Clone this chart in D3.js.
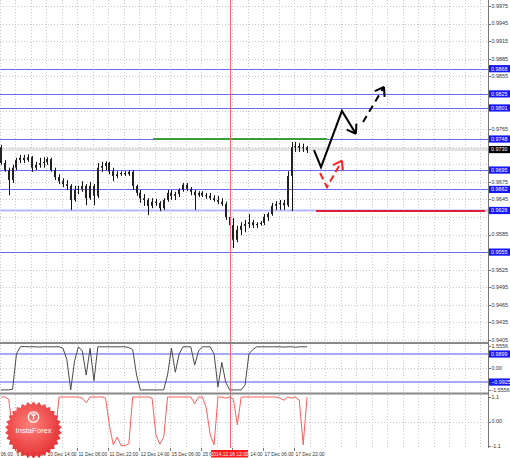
<!DOCTYPE html>
<html>
<head>
<meta charset="utf-8">
<script src="https://cdn.jsdelivr.net/npm/d3@7"></script>
<style>
  body { margin: 0; background: #fff; }
  svg { display: block; font-family: "Liberation Sans", Arial, sans-serif; }
</style>
</head>
<body>
<svg id="chart" width="510" height="458"></svg>
<script>
// 2-hour candles, EURUSD-like H1 view, 9 Dec .. 18 Dec 2014
const opens = [0.9734,0.9707,0.9695,0.9678,0.9699,0.9712,0.9716,0.9712,0.9717,0.9699,
  0.9704,0.9707,0.9709,0.9714,0.9695,0.9683,0.9676,0.9671,0.9668,0.9644,
  0.9661,0.9663,0.9668,0.9647,0.9668,0.9651,0.9699,0.9702,0.9707,0.9693,
  0.9685,0.9688,0.9690,0.9688,0.9692,0.9668,0.9656,0.9647,0.9644,0.9634,
  0.9641,0.9639,0.9630,0.9644,0.9656,0.9651,0.9654,0.9661,0.9670,0.9663,
  0.9658,0.9652,0.9656,0.9652,0.9651,0.9647,0.9644,0.9641,0.9637,0.9615,
  0.9601,0.9576,0.9593,0.9600,0.9603,0.9606,0.9601,0.9603,0.9605,0.9615,
  0.9620,0.9634,0.9637,0.9639,0.9635,0.9685,0.9734,0.9736,0.9733,0.9734];
const highs = [0.9738,0.9712,0.9699,0.9704,0.9716,0.9721,0.9721,0.9722,0.9719,0.9709,
  0.9716,0.9717,0.9717,0.9716,0.9699,0.9688,0.9681,0.9678,0.9671,0.9668,
  0.9668,0.9676,0.9671,0.9675,0.9671,0.9707,0.9709,0.9710,0.9709,0.9699,
  0.9693,0.9693,0.9693,0.9695,0.9695,0.9670,0.9661,0.9654,0.9647,0.9647,
  0.9646,0.9642,0.9647,0.9661,0.9661,0.9658,0.9664,0.9673,0.9673,0.9666,
  0.9661,0.9659,0.9659,0.9656,0.9656,0.9652,0.9651,0.9647,0.9641,0.9617,
  0.9613,0.9600,0.9606,0.9610,0.9620,0.9610,0.9606,0.9608,0.9620,0.9623,
  0.9639,0.9642,0.9644,0.9644,0.9693,0.9743,0.9743,0.9741,0.9740,0.9736];
const lows = [0.9704,0.9692,0.9652,0.9673,0.9695,0.9707,0.9707,0.9709,0.9692,0.9695,
  0.9699,0.9699,0.9704,0.9692,0.9678,0.9671,0.9666,0.9661,0.9627,0.9641,
  0.9654,0.9658,0.9635,0.9644,0.9635,0.9647,0.9692,0.9695,0.9688,0.9676,
  0.9681,0.9685,0.9685,0.9685,0.9661,0.9651,0.9639,0.9634,0.9618,0.9630,
  0.9634,0.9625,0.9627,0.9641,0.9644,0.9644,0.9649,0.9658,0.9659,0.9652,
  0.9627,0.9649,0.9649,0.9646,0.9644,0.9641,0.9637,0.9634,0.9610,0.9593,
  0.9562,0.9572,0.9584,0.9589,0.9596,0.9596,0.9596,0.9600,0.9601,0.9608,
  0.9617,0.9627,0.9627,0.9627,0.9632,0.9625,0.9726,0.9726,0.9726,0.9724];
const closes = [0.9707,0.9695,0.9678,0.9699,0.9712,0.9716,0.9712,0.9717,0.9699,0.9704,
  0.9707,0.9709,0.9714,0.9695,0.9683,0.9676,0.9671,0.9668,0.9644,0.9661,
  0.9663,0.9668,0.9647,0.9668,0.9651,0.9699,0.9702,0.9707,0.9693,0.9685,
  0.9688,0.9690,0.9688,0.9692,0.9668,0.9656,0.9647,0.9644,0.9634,0.9641,
  0.9639,0.9630,0.9644,0.9656,0.9651,0.9654,0.9661,0.9670,0.9663,0.9658,
  0.9652,0.9656,0.9652,0.9651,0.9647,0.9644,0.9641,0.9637,0.9615,0.9601,
  0.9576,0.9593,0.9600,0.9603,0.9606,0.9601,0.9603,0.9605,0.9615,0.9620,
  0.9634,0.9637,0.9639,0.9635,0.9685,0.9734,0.9736,0.9733,0.9734,0.9729];

// oscillators (same 2-hour steps)
const osc1 = [-1.55,-1.55,-1.55,-1.5,1.0,1.5,1.52,1.5,1.5,1.5,
  1.48,1.5,1.5,1.5,1.5,1.5,1.4,0.6,-1.55,0.5,
  1.5,1.2,-0.5,1.4,-0.9,1.5,1.5,1.5,1.5,1.5,
  1.5,1.5,1.5,1.45,1.3,-0.5,-1.55,-1.55,-1.55,-1.55,
  -1.55,-1.55,-1.55,-0.5,1.4,-0.3,1.0,1.5,1.5,1.5,
  0.2,1.2,1.5,1.5,1.5,1.0,-1.35,0.4,-1.0,-1.55,
  -1.55,-1.55,-1.55,-1.2,1.0,1.3,1.5,1.5,1.5,1.5,
  1.5,1.5,1.5,1.48,1.5,1.5,1.47,1.5,1.5,1.5];
const osc2 = [1.1,1.1,1.0,-0.4,-0.9,-0.9,-0.9,-0.9,-0.9,-0.9,
  -0.9,-0.9,-0.9,-0.9,-0.6,1.1,1.1,1.1,1.1,1.1,
  1.1,1.05,0.84,1.1,1.1,1.1,1.1,1.05,-0.2,-1.05,
  -0.7,-1.08,-1.08,-1.0,1.1,1.1,1.1,1.1,1.1,1.05,
  -0.6,-1.02,-0.7,1.1,1.1,1.1,1.1,1.1,1.1,1.1,
  0.8,1.1,1.1,0.6,-0.6,-1.05,1.1,1.1,1.05,1.1,
  1.0,-0.15,1.1,1.1,1.1,1.1,1.1,1.1,1.1,1.1,
  1.1,1.1,1.05,0.95,1.1,1.05,1.1,0.95,-1.05,1.1];

// horizontal levels
const levels = [0.9868, 0.9825, 0.9801, 0.9748, 0.9695, 0.9662, 0.9555];
const softLevel = 0.9626;
const bidPrice = 0.9730;
const resistLine = { from: 79, to: 168.8, price: 0.9748 };
const supportLine = { from: 163.1, to: 250.3, price: 0.9625 };

// forecast arrows, [hour index, price]
const mainArrow = [[162.1, 0.9729], [165.7, 0.9700], [176.5, 0.9796], [183.7, 0.9757]];
const targetArrow = [[187.4, 0.9777], [198.2, 0.9837]];
const altArrow = [[165.2, 0.9690], [168.8, 0.9666], [176.5, 0.9711]];

// axes
const priceTicks = [0.9975,0.9945,0.9915,0.9885,0.9855,0.9825,0.9795,0.9765,0.9735,0.9705,
  0.9675,0.9645,0.9615,0.9585,0.9555,0.9525,0.9495,0.9465,0.9435,0.9405];
const timeTicks = [-8, 8, 24, 40, 56, 72, 88, 104, 120, 136, 152];
const timeLabels = ['9 Dec 06:00','9 Dec 22:00','10 Dec 14:00','11 Dec 06:00','11 Dec 22:00',
  '12 Dec 14:00','15 Dec 06:00','15 Dec 22:00','16 Dec 14:00','17 Dec 06:00','17 Dec 22:00'];
const osc1Ticks = [1.5556, 0, -1.5556];
const osc1Labels = ['1.5556', '0.00', '-1.5556'];
const osc1Levels = [0.9899, -0.9925];
const osc2Ticks = [1.1, 0, -1.1];
const osc2Labels = ['1.1', '0.00', '-1.1'];
const crossHour = 118.5;
const crossLabel = '2014.12.16 12:00';

const svg = d3.select('#chart');
const right = 488;
const x = d3.scaleLinear().domain([0, 251.9]).range([0, right]);
const y = d3.scaleLinear().domain([0.9975, 0.9405]).range([6, 340]);
const y1 = d3.scaleLinear().domain([1.5556, -1.5556]).range([346, 390]);
const y2 = d3.scaleLinear().domain([1.1, -1.1]).range([397, 446]);
const fmt = d3.format('.4f');
const candleT = k => 2 * k + 0.5;

svg.append('rect').attr('width', 510).attr('height', 458).attr('fill', '#fff');

// grid
const gridG = svg.append('g')
  .attr('stroke', '#c8c8c8')
  .attr('stroke-dasharray', '1,2')
  .attr('shape-rendering', 'crispEdges');
const vGrid = d3.range(0, 252, 8);
[[0, 342], [345, 392], [395, 448]].forEach(([a, b]) => {
  gridG.selectAll(null).data(vGrid).enter().append('line')
    .attr('x1', d => Math.round(x(d)) + 0.5).attr('x2', d => Math.round(x(d)) + 0.5)
    .attr('y1', a).attr('y2', b);
});
gridG.selectAll(null).data(priceTicks).enter().append('line')
  .attr('x1', 0).attr('x2', right)
  .attr('y1', d => Math.round(y(d)) + 0.5).attr('y2', d => Math.round(y(d)) + 0.5);
gridG.append('line').attr('x1', 0).attr('x2', right)
  .attr('y1', Math.round(y1(0)) + 0.5).attr('y2', Math.round(y1(0)) + 0.5);
gridG.append('line').attr('x1', 0).attr('x2', right)
  .attr('y1', Math.round(y2(0)) + 0.5).attr('y2', Math.round(y2(0)) + 0.5);

// bid line
svg.append('line').attr('x1', 0).attr('x2', right)
  .attr('y1', y(bidPrice)).attr('y2', y(bidPrice))
  .attr('stroke', '#e2e2e2').attr('stroke-width', 3);

// levels
svg.append('line').attr('x1', 0).attr('x2', right)
  .attr('y1', y(softLevel)).attr('y2', y(softLevel))
  .attr('stroke', '#b4b8ff').attr('stroke-width', 2);
svg.selectAll('.lvl').data(levels).enter().append('line')
  .attr('class', 'lvl')
  .attr('x1', 0).attr('x2', right)
  .attr('y1', d => Math.round(y(d)) + 0.5).attr('y2', d => Math.round(y(d)) + 0.5)
  .attr('stroke', '#6a6af2').attr('stroke-width', 1);
svg.selectAll('.lvl1').data(osc1Levels).enter().append('line')
  .attr('class', 'lvl1')
  .attr('x1', 0).attr('x2', right)
  .attr('y1', d => y1(d)).attr('y2', d => y1(d))
  .attr('stroke', '#8c8cf4').attr('stroke-width', 1.5);

svg.append('line')
  .attr('x1', x(resistLine.from)).attr('x2', x(resistLine.to))
  .attr('y1', y(resistLine.price)).attr('y2', y(resistLine.price))
  .attr('stroke', '#3a9e3a').attr('stroke-width', 2);
svg.append('line')
  .attr('x1', x(supportLine.from)).attr('x2', x(supportLine.to))
  .attr('y1', y(supportLine.price)).attr('y2', y(supportLine.price))
  .attr('stroke', '#e01e3c').attr('stroke-width', 2);

// candles
const candles = svg.append('g');
closes.forEach((c, k) => {
  const cx = Math.round(x(candleT(k))) + 0.5;
  candles.append('line')
    .attr('x1', cx).attr('x2', cx)
    .attr('y1', y(highs[k])).attr('y2', y(lows[k]))
    .attr('stroke', '#111').attr('stroke-width', 1);
  const top = y(Math.max(opens[k], c));
  const bot = y(Math.min(opens[k], c));
  candles.append('rect')
    .attr('x', cx - 1.5).attr('width', 2)
    .attr('y', top).attr('height', Math.max(1, bot - top))
    .attr('fill', '#222');
});

// oscillators
svg.append('path')
  .datum(osc1)
  .attr('d', d3.line().x((d, k) => x(candleT(k))).y(d => y1(d)))
  .attr('fill', 'none').attr('stroke', '#4a4a4a').attr('stroke-width', 1);
svg.append('path')
  .datum(osc2)
  .attr('d', d3.line().x((d, k) => x(candleT(k))).y(d => y2(d)))
  .attr('fill', 'none').attr('stroke', '#ff5c5c').attr('stroke-width', 1);

// arrows
function arrow(pts, color, dash) {
  const p = pts.map(([t, v]) => [x(t), y(v)]);
  const g = svg.append('g')
    .attr('fill', 'none').attr('stroke', color).attr('stroke-width', 2)
    .attr('stroke-linecap', 'butt');
  g.append('path').attr('d', d3.line()(p)).attr('stroke-dasharray', dash);
  const [ax, ay] = p[p.length - 2];
  const [bx, by] = p[p.length - 1];
  const back = Math.atan2(ay - by, ax - bx);
  const len = 10;
  [0.6, -0.6].forEach(r => {
    g.append('line')
      .attr('x1', bx).attr('y1', by)
      .attr('x2', bx + len * Math.cos(back + r))
      .attr('y2', by + len * Math.sin(back + r));
  });
}
arrow(mainArrow, '#000', null);
arrow(targetArrow, '#000', '7,5');
arrow(altArrow, '#ff2020', '7,4');

// crosshair
svg.append('line')
  .attr('x1', Math.round(x(crossHour)) + 0.5).attr('x2', Math.round(x(crossHour)) + 0.5)
  .attr('y1', 0).attr('y2', 448)
  .attr('stroke', '#f06a6a').attr('stroke-width', 1);

// separators and axis line
svg.append('rect').attr('x', 0).attr('y', 342).attr('width', right).attr('height', 2).attr('fill', '#888');
svg.append('rect').attr('x', 0).attr('y', 392.5).attr('width', right).attr('height', 2).attr('fill', '#888');
svg.append('line').attr('x1', right + 0.5).attr('x2', right + 0.5).attr('y1', 0).attr('y2', 448)
  .attr('stroke', '#777');

// right axis labels; plain ticks hidden where a boxed label sits
const boxedMain = levels.concat([softLevel, bidPrice]).map(d => y(d));
const axisG = svg.append('g').attr('font-size', 5.4).attr('fill', '#333');
function tickLabel(yy, txt) {
  axisG.append('line').attr('x1', right).attr('x2', right + 3)
    .attr('y1', Math.round(yy) + 0.5).attr('y2', Math.round(yy) + 0.5).attr('stroke', '#777');
  axisG.append('text').attr('x', right + 3.5).attr('y', yy).attr('dy', '0.35em').text(txt);
}
priceTicks.forEach(d => {
  if (boxedMain.some(b => Math.abs(b - y(d)) < 6.5)) return;
  tickLabel(y(d), fmt(d));
});
osc1Ticks.forEach((d, i) => tickLabel(y1(d), osc1Labels[i]));
osc2Ticks.forEach((d, i) => tickLabel(y2(d), osc2Labels[i]));

function boxLabel(yy, txt, bg) {
  svg.append('rect').attr('x', right + 1).attr('y', yy - 3.6).attr('width', 21).attr('height', 7.2)
    .attr('fill', bg);
  svg.append('text').attr('x', right + 3).attr('y', yy).attr('dy', '0.35em')
    .attr('font-size', 5.4).attr('fill', '#fff').text(txt);
}
levels.concat([softLevel]).forEach(d => boxLabel(y(d), fmt(d), '#1616ff'));
boxLabel(y(bidPrice), fmt(bidPrice), '#000');
osc1Levels.forEach(d => boxLabel(y1(d), fmt(d), '#1616ff'));

// time axis
const timeG = svg.append('g').attr('font-size', 4.9).attr('fill', '#333');
timeTicks.forEach((t, i) => {
  const tx = Math.round(x(t)) + 0.5;
  timeG.append('line').attr('x1', tx).attr('x2', tx).attr('y1', 448).attr('y2', 451).attr('stroke', '#777');
  timeG.append('text').attr('x', tx + 1).attr('y', 455.5).text(timeLabels[i]);
});
const cxp = x(crossHour);
svg.append('rect').attr('x', cxp - 18.5).attr('y', 450).attr('width', 37).attr('height', 7.5).attr('fill', '#ff1a1a');
svg.append('text').attr('x', cxp).attr('y', 455.5).attr('text-anchor', 'middle')
  .attr('font-size', 4.9).attr('fill', '#fff').text(crossLabel);

// logo
const defs = svg.append('defs');
const grad = defs.append('radialGradient').attr('id', 'logoGrad').attr('cx', '45%').attr('cy', '40%').attr('r', '60%');
grad.append('stop').attr('offset', '0%').attr('stop-color', '#ff7a72');
grad.append('stop').attr('offset', '100%').attr('stop-color', '#e3262a');
const logo = svg.append('g').attr('transform', 'translate(33.5,430)');
const teeth = 30;
const starPts = d3.range(teeth * 2).map(i => {
  const a = (i / (teeth * 2)) * Math.PI * 2;
  const r = i % 2 ? 25.5 : 28.5;
  return [r * Math.sin(a), -r * Math.cos(a)];
});
logo.append('path').attr('d', d3.line().curve(d3.curveLinearClosed)(starPts))
  .attr('fill', 'url(#logoGrad)').attr('opacity', 0.95);
logo.append('circle').attr('cx', 0).attr('cy', -13).attr('r', 5.2)
  .attr('fill', 'none').attr('stroke', '#fff').attr('stroke-width', 1.3);
logo.append('path').attr('d', 'M0,-10 L0,-14.5 M-2.5,-16 L0,-14 L2.5,-16')
  .attr('fill', 'none').attr('stroke', '#fff').attr('stroke-width', 1.3);
logo.append('circle').attr('cx', 0).attr('cy', -16.3).attr('r', 0.9).attr('fill', '#fff');
logo.append('text').attr('x', 0).attr('y', 3).attr('text-anchor', 'middle')
  .attr('font-size', 7.6).attr('fill', '#fff').text('InstaForex');
</script>
</body>
</html>
